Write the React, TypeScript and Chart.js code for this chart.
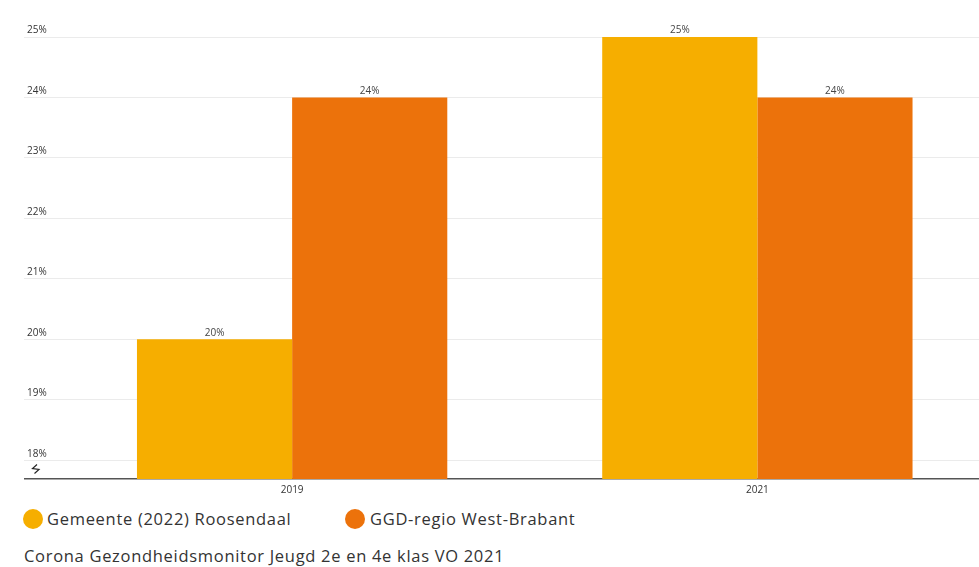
import React, { useEffect, useRef } from "react";
import { Chart, registerables } from "chart.js";

Chart.register(...registerables);

const categories = ["2019", "2021"];
const gemeenteValues = [20, 25];
const ggdValues = [24, 24];
const yTickValues = [18, 19, 20, 21, 22, 23, 24, 25];
const yMin = 17.69;
const yMax = 25;

const seriesNames = ["Gemeente (2022) Roosendaal", "GGD-regio West-Brabant"];
const seriesColors = ["#F6AE00", "#EC720B"];
const caption = "Corona Gezondheidsmonitor Jeugd 2e en 4e klas VO 2021";

const FONT = "'Open Sans', 'DejaVu Sans', sans-serif";

const barLabelPlugin = {
  id: "barLabels",
  afterDatasetsDraw(chart: any) {
    const ctx = chart.ctx;
    ctx.save();
    ctx.font = `10px ${FONT}`;
    ctx.fillStyle = "#444";
    ctx.textAlign = "center";
    ctx.textBaseline = "bottom";
    chart.data.datasets.forEach((ds: any, di: number) => {
      const meta = chart.getDatasetMeta(di);
      meta.data.forEach((el: any, i: number) => {
        ctx.fillText(`${ds.data[i]}%`, el.x, el.y - 1.5);
      });
    });
    // axis break symbol
    const y = chart.scales.y.getPixelForValue(yMin) - 10;
    ctx.strokeStyle = "#222";
    ctx.lineWidth = 1.2;
    ctx.beginPath();
    ctx.moveTo(37, y - 4.5);
    ctx.lineTo(32.5, y - 0.5);
    ctx.lineTo(39, y + 0.5);
    ctx.lineTo(34.5, y + 4.5);
    ctx.stroke();
    ctx.restore();
  },
};

export default function App() {
  const ref = useRef<HTMLCanvasElement | null>(null);

  useEffect(() => {
    document.body.style.margin = "0";
    if (!ref.current) return;
    const chart = new Chart(ref.current, {
      type: "bar",
      data: {
        labels: categories,
        datasets: [
          {
            label: seriesNames[0],
            data: gemeenteValues,
            backgroundColor: seriesColors[0],
            categoryPercentage: 0.667,
            barPercentage: 1,
          },
          {
            label: seriesNames[1],
            data: ggdValues,
            backgroundColor: seriesColors[1],
            categoryPercentage: 0.667,
            barPercentage: 1,
          },
        ],
      },
      options: {
        animation: false,
        responsive: true,
        maintainAspectRatio: false,
        layout: { padding: { left: 27, top: 37, right: 0, bottom: 0 } },
        plugins: {
          legend: { display: false },
          tooltip: { enabled: false },
        },
        scales: {
          x: {
            grid: { display: false, drawTicks: false },
            border: { display: false },
            ticks: {
              font: { family: FONT, size: 10 },
              color: "#333",
              padding: 5,
              maxRotation: 0,
            },
            afterFit(axis: any) {
              axis.height = 21;
            },
          },
          y: {
            min: yMin,
            max: yMax,
            border: { display: false },
            grid: {
              color: (c: any) => (c.tick && c.tick.value === yMin ? "#555" : "#ebebeb"),
              lineWidth: (c: any) => (c.tick && c.tick.value === yMin ? 1.5 : 1),
              tickLength: 35.5,
              drawTicks: true,
            },
            ticks: {
              font: { family: FONT, size: 10 },
              color: "#333",
              crossAlign: "far",
              labelOffset: -6.5,
              callback: (v: any) => (yTickValues.includes(Number(v)) ? `${v}%` : ""),
            },
            afterBuildTicks(axis: any) {
              axis.ticks = [yMin, ...yTickValues].map((v) => ({ value: v }));
            },
            afterFit(axis: any) {
              axis.width = 32.5;
            },
          },
        },
      },
      plugins: [barLabelPlugin],
    } as any);
    return () => chart.destroy();
  }, []);

  const textStyle: React.CSSProperties = {
    position: "absolute",
    fontFamily: FONT,
    fontSize: 16.5,
    letterSpacing: "0.7px",
    color: "#333",
    lineHeight: "20px",
    whiteSpace: "nowrap",
  };
  const dot = (left: number, color: string): React.CSSProperties => ({
    position: "absolute",
    left,
    top: 509,
    width: 20,
    height: 20,
    borderRadius: "50%",
    background: color,
  });

  return (
    <div style={{ position: "absolute", left: 0, top: 0, width: 979, height: 567, overflow: "hidden", background: "#fff" }}>
      <div style={{ position: "absolute", left: 0, top: 0, width: 990, height: 500 }}>
        <canvas ref={ref} />
      </div>
      <div style={dot(23, seriesColors[0])} />
      <div style={{ ...textStyle, left: 47, top: 509 }}>{seriesNames[0]}</div>
      <div style={dot(345, seriesColors[1])} />
      <div style={{ ...textStyle, left: 370, top: 509 }}>{seriesNames[1]}</div>
      <div style={{ ...textStyle, left: 24, top: 546 }}>{caption}</div>
    </div>
  );
}
